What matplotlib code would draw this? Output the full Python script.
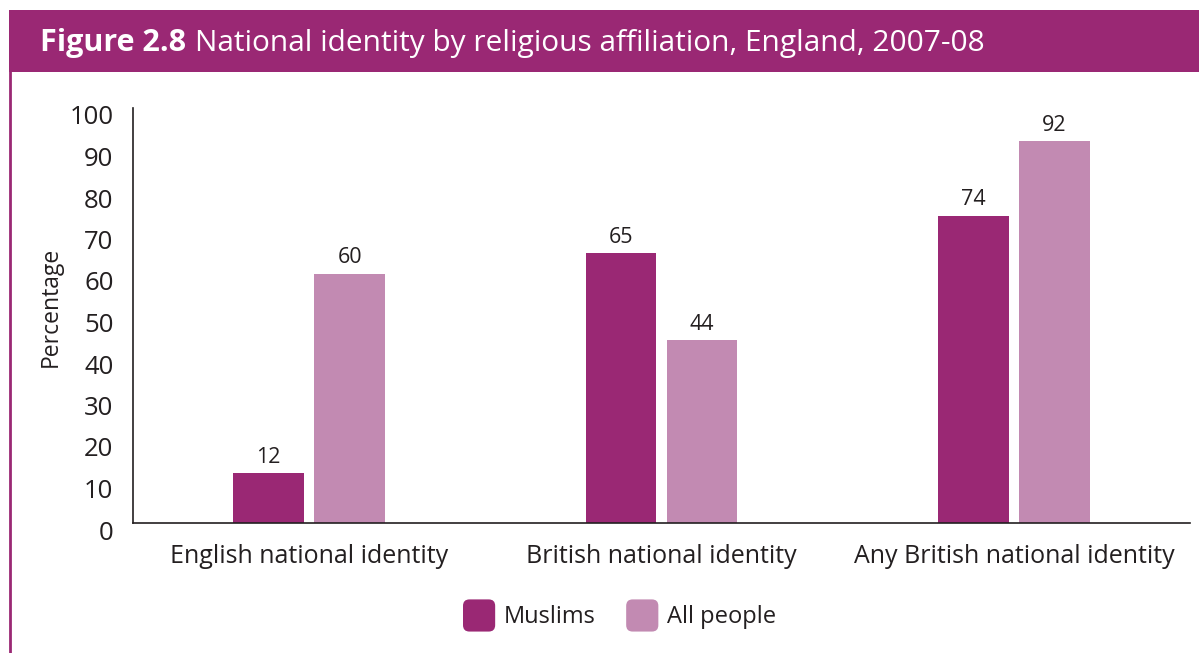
import matplotlib
matplotlib.use("Agg")
import matplotlib.pyplot as plt
import matplotlib.transforms as mtransforms
from matplotlib.patches import FancyBboxPatch, Rectangle
from matplotlib.legend_handler import HandlerPatch
import numpy as np

categories = ["English national identity", "British national identity", "Any British national identity"]
muslims = [12, 65, 74]
all_people = [60, 44, 92]
series_names = ["Muslims", "All people"]
yticks = [0, 10, 20, 30, 40, 50, 60, 70, 80, 90, 100]

PURPLE = "#9a2874"
PINK = "#c28ab2"
TEXT = "#231f20"

plt.rcParams["font.family"] = ["Open Sans", "DejaVu Sans"]

fig = plt.figure(figsize=(11.99, 6.53), dpi=100)

# header band and left frame line
fig.patches.append(Rectangle((9 / 1199, 1 - 72 / 653), 1, 62 / 653, transform=fig.transFigure,
                             facecolor=PURPLE, edgecolor="none", zorder=0))
fig.add_artist(plt.Line2D([10 / 1199, 10 / 1199], [0, 1 - 72 / 653], transform=fig.transFigure,
                          color=PURPLE, lw=2))
fig.text(40 / 1199, 1 - 43 / 653, "Figure 2.8", color="white", fontsize=22, fontweight="bold",
         va="center", ha="left")
fig.text(195 / 1199, 1 - 43 / 653, "National identity by religious affiliation, England, 2007-08",
         color="white", fontsize=21.5, va="center", ha="left")

ax = fig.add_axes([133 / 1199, 130 / 653, 1057 / 1199, 415 / 653])
x = np.arange(len(categories))
w = 0.2
off = 0.115
b1 = ax.bar(x - off, muslims, w, color=PURPLE, label=series_names[0])
b2 = ax.bar(x + off, all_people, w, color=PINK, label=series_names[1])
for b in (b1, b2):
    ax.bar_label(b, padding=4, fontsize=15.5, color=TEXT)

ax.set_xlim(-0.5, 2.5)
ax.set_ylim(0, 100)
ax.set_yticks(yticks)
ax.set_yticklabels([str(t) for t in yticks], fontsize=18.5, color=TEXT)
ax.set_xticks(x)
ax.set_xticklabels(categories, fontsize=18, color=TEXT)
ax.tick_params(axis="both", length=0)
ax.tick_params(axis="y", pad=14)
ax.tick_params(axis="x", pad=15)
shift = mtransforms.ScaledTranslation(0, -7 / 100, fig.dpi_scale_trans)
for lab in ax.get_yticklabels():
    lab.set_transform(lab.get_transform() + shift)
for s in ("top", "right"):
    ax.spines[s].set_visible(False)
for s in ("left", "bottom"):
    ax.spines[s].set_color(TEXT)
    ax.spines[s].set_linewidth(1.2)
ax.set_ylabel("Percentage", fontsize=16.5, color=TEXT)
ax.yaxis.set_label_coords(-70 / 1057, 0.52)


class RoundBox(HandlerPatch):
    def create_artists(self, legend, orig_handle, xdescent, ydescent, width, height, fontsize, trans):
        s = min(width, height) * 1.25
        p = FancyBboxPatch((xdescent + (width - s) / 2 + 4, -ydescent + (height - s) / 2), s, s,
                           boxstyle="round,pad=0,rounding_size=%f" % (s * 0.2),
                           facecolor=orig_handle.get_facecolor(), edgecolor="none", transform=trans)
        return [p]


h1 = Rectangle((0, 0), 1, 1, facecolor=PURPLE)
h2 = Rectangle((0, 0), 1, 1, facecolor=PINK)
fig.legend([h1, h2], series_names, loc="center", bbox_to_anchor=(617 / 1199, 1 - 616 / 653),
           ncol=2, frameon=False, fontsize=17, handler_map={Rectangle: RoundBox()},
           handlelength=1.3, handleheight=1.3, handletextpad=0.62, columnspacing=1.1,
           labelcolor=TEXT)

fig.savefig("out.png", dpi=100)
